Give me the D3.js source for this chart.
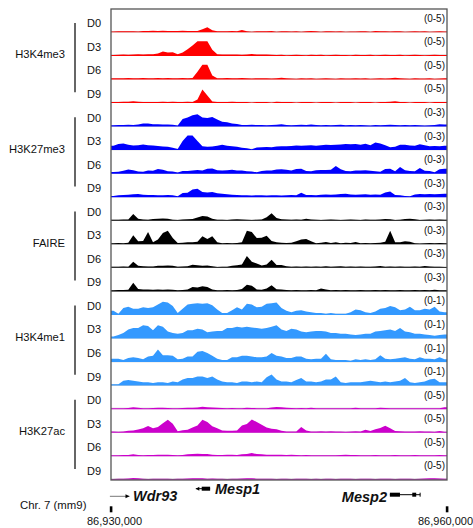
<!DOCTYPE html>
<html><head><meta charset="utf-8">
<script src="https://cdn.jsdelivr.net/npm/d3@7"></script>
<style>body{margin:0;background:#fff}svg{display:block;font-family:"Liberation Sans",Arial,sans-serif}</style>
</head><body><svg id="c" width="473" height="528"></svg>
<script>
const marks = ["H3K4me3","H3K27me3","FAIRE","H3K4me1","H3K27ac"];
const days = ["D0","D3","D6","D9"];
const markColors = ["#ff0000","#0000ff","#000000","#3399ff","#cc00cc"];
const markRanges = [5,3,3,1,5];

const H3K4me3_D0 = [0.1,0.15,0.2,0.15,0.2,0.1,0.25,0.3,0.35,0.3, 0.35,0.3,0.25,0.3,0.35,0.3,0.25,0.3,0.9,1.6, 0.5,0.2,0.15,0.2,0.25,0.2,0.6,0.15,0,0.2, 0.15,0.2,0.25,0,0.2,0.15,0.1,0.2,0,0.2, 0.25,0.15,0,0.2,0.15,0.1,0.2,0,0.1,0.1, 0.15,0.2,0,0.25,0.2,0.15,0.1,0.15,0.2,0, 0.1,0.15,0.1,0.2,0,0.1,0.15,0.1];
const H3K4me3_D3 = [0.15,0.2,0.25,0.2,0.3,0.35,0.3,0.35,0.4,0.6, 1.4,1.0,1.1,0.4,1.0,2.2,3.5,5,5,5, 2.0,0.4,0.3,0.3,0.25,0.3,0.2,0.3,0.45,0.3, 0.25,0.3,0.2,0.15,0.2,0,0.15,0.2,0.15,0, 0.2,0.15,0.2,0,0.15,0.2,0.1,0.15,0,0.2, 0.15,0.1,0.2,0,0.15,0.2,0.1,0.15,0.2,0, 0.15,0.2,0.1,0,0.15,0.2,0.1,0.15];
const H3K4me3_D6 = [0.2,0.25,0.2,0.3,0.25,0.2,0.3,0.25,0.2,0.3, 0.25,0.3,0.2,0.25,0.3,0.2,0.3,2.5,5,5, 1.2,0.2,0.25,0.3,0.2,0.25,0.3,0.2,0.15,0.25, 0.2,0.25,0.15,0.2,0.4,0.2,0.15,0,0.2,0.15, 0.2,0,0.15,0.2,0.15,0,0.2,0.15,0.1,0.2, 0.15,0.2,0,0.15,0.2,0.15,0.2,0.4,0.2,0.15, 0,0.2,0.15,0.1,0.2,0,0.15,0.2];
const H3K4me3_D9 = [0.1,0.15,0.2,0.25,0.4,0.2,0.1,0.15,0.1,0.15, 0.2,0.15,0.2,0.15,0.1,0.2,0.15,1.0,4.6,2.5, 0.3,0.15,0.1,0.15,0.2,0.1,0.15,0.1,0,0.15, 0.1,0.15,0,0.2,0.15,0.1,0.15,0,0.1,0.15, 0.1,0,0.15,0.1,0.15,0,0.1,0.15,0.1,0, 0.15,0.1,0.15,0,0.1,0.15,0.2,0.4,0.15,0.1, 0,0.15,0.1,0.15,0,0.1,0.15,0.1];

const H3K27me3_D0 = [0.15,0.2,0.2,0.25,0.2,0.3,0.55,0.5,0.35,0.35, 0.3,0.3,0.25,0.1,1.5,1.8,2.3,2.5,1.8,1.7, 1.9,1.4,0.9,0.8,0.5,0.4,0.2,0.2,0.25,0.2, 0.2,0.15,0.2,0.25,0.35,0.2,0.15,0.2,0.25,0.2, 0.3,0.2,0.15,0.2,0.15,0.2,0.25,0.15,0.2,0.15, 0.2,0.15,0.1,0.2,0.15,0.2,0.25,0.2,0.15,0.2, 0.15,0.2,0.15,0.1,0.15,0.2,0.35,0.3];
const H3K27me3_D3 = [0.8,1.2,1.3,1.0,0.85,0.9,1.05,0.9,0.85,0.75, 0.65,0.6,0.35,0.1,1.8,3,3,1.8,0.7,0.6, 0.65,0.8,1.0,0.8,0.7,0.6,0.4,0.25,0.05,0.45, 0.5,0.55,0.5,0.65,0.7,0.7,0.75,0.85,0.8,0.85, 0.9,0.8,0.9,1.0,0.95,1.0,1.05,1.2,1.1,1.2, 1.0,1.25,0.9,1.5,1.3,0.9,0.5,0.6,1.0,1.0, 0.85,0.8,1.1,0.9,0.7,0.75,0.7,0.8];
const H3K27me3_D6 = [0.2,0.3,0.5,0.75,0.6,0.35,0.3,0.55,0.5,0.85, 0.7,0.4,0.35,0.1,0.45,0.45,0.55,0.65,0.55,0.9, 1.0,0.6,0.55,0.6,0.7,0.55,0.55,0.4,0.35,0.15, 0.45,0.55,0.55,0.75,0.8,0.7,0.55,0.85,0.9,0.45, 0.4,0.6,0.65,0.65,0.7,1.5,0.8,0.45,0.4,0.55, 0.55,0.6,0.5,0.4,0.3,0.85,0.9,0.4,1.3,0.6, 0.45,0.4,1.1,0.5,0.45,0.15,0.8,0.9];
const H3K27me3_D9 = [0.15,0.3,0.35,0.4,0.5,0.55,0.4,0.35,0.35,0.3, 0.3,0.35,0.3,0.1,0.75,0.85,1.5,1.7,1.0,0.9, 1.0,0.7,0.6,0.5,0.4,0.35,0.3,0.3,0.25,0.3, 0.3,0.25,0.3,0.3,0.25,0.3,0.35,0.3,0.8,0.35, 0.35,0.3,0.4,0.45,0.4,0.45,0.55,0.6,0.45,0.4, 0.45,0.5,0.4,0.45,0.4,0.9,1.1,0.35,0.3,0.15, 0.1,0.45,0.55,0.5,0.55,0.5,0.55,0.6];

const FAIRE_D0 = [0.1,0.1,0.15,0.15,1.3,0.3,0.15,0.1,0.25,0.3, 0.35,0.3,0.1,0.05,0.15,0.2,0.25,0.55,0.9,0.8, 0.3,0.1,0.1,0.05,0.15,0.2,0.15,0.1,0.05,0.1, 0.15,0.6,1.5,0.45,0.2,0.15,0.1,0.15,0.1,0.3, 0.15,0.1,0.05,0.1,0.15,0.1,0.05,0.1,0.15,0.1, 0.05,0.15,0.1,0.1,0.15,0.25,0.2,0.05,0.1,0.25, 0.3,0.2,0.05,0.1,0.15,0.1,0.15,0.1];
const FAIRE_D3 = [0.1,0.15,0.1,0.2,1.8,0.5,0.6,2.5,0.3,0.9, 2.3,2.8,1.2,0.15,0.2,0.3,0.3,0.4,1.6,1.0, 1.6,0.3,0.1,0.15,0.1,0.15,0.3,2.8,2.5,1.2, 1.3,1.7,0.6,0.3,0.2,0.15,0.2,0.5,0.9,1.0, 0.5,0.1,0.2,0.35,0.15,0.3,0.1,0.2,0.15,0.35, 0.1,0.15,0.1,0.15,0.2,0.4,2.8,0.3,0.3,0.5, 0.4,0.1,0.05,0.1,0.15,0.1,0.15,0.1];
const FAIRE_D6 = [0.1,0.1,0.15,0.1,1.2,0.3,0.2,0.15,0.15,0.3, 0.3,0.4,0.3,0.1,0.15,0.2,0.55,0.45,0.3,0.35, 0.2,0.05,0.1,0.1,0.3,0.45,0.6,2.4,1.2,0.8, 0.35,0.6,1.6,0.5,0.5,0.2,0.1,0.15,0.1,0.15, 0.1,0.15,0.1,0.2,0.1,0.15,0.2,0.1,0.15,0.1, 0.15,0.1,0.1,0.15,0.25,0.1,0.15,0.1,0.15,0.1, 0.1,0.15,0.1,0.25,0.15,0.1,0.1,0.05];
const FAIRE_D9 = [0.1,0.15,0.15,0.2,1.7,0.4,0.3,0.3,0.2,0.3, 0.25,0.3,0.2,0.1,0.15,0.3,0.8,0.7,1.0,0.8, 0.3,0.1,0.1,0.15,0.1,0.15,0.4,1.3,1.1,0.3, 0.2,0.5,1.2,0.35,0.3,0.15,0.1,0.15,0.1,0.1, 0.15,0.1,0.5,0.3,0.1,0.15,0.1,0.15,0.1,0.1, 0.15,0.1,0.1,0.15,0.1,0.15,0.1,0.1,0.15,0.1, 0.1,0.15,0.1,0.15,0.1,0.2,0.1,0.1];

const H3K4me1_D0 = [0.25,0.05,0.45,0.55,0.4,0.4,0.5,0.45,0.5,0.7, 0.9,0.85,0.6,0.1,0.4,0.7,0.75,0.8,0.75,0.8, 0.65,0.35,0.1,0.1,0.3,0.5,0.35,0.75,0.7,0.5, 0.55,0.75,0.8,0.85,0.45,0.25,0.15,0.25,0.3,0.2, 0.15,0.1,0.1,0.05,0.1,0.05,0.05,0.05,0.15,0.35, 0.3,0.15,0.1,0.2,0.4,0.45,0.6,0.5,0.3,0.35, 0.55,0.3,0.3,0.4,0.35,0.55,0.2,0.15];
const H3K4me1_D3 = [0.1,0.2,0.35,0.6,0.7,0.7,0.9,0.85,0.55,0.9, 0.8,0.45,0.35,0.3,0.35,0.55,0.55,0.65,0.6,0.4, 0.45,0.5,0.5,0.7,0.7,0.8,0.75,0.8,0.75,0.7, 0.65,0.7,0.8,0.9,0.6,0.5,0.65,0.6,0.45,0.4, 0.45,0.5,0.5,0.45,0.35,0.35,0.3,0.3,0.25,0.2, 0.25,0.3,0.3,0.45,0.5,0.55,0.6,0.5,0.7,0.45, 0.4,0.3,0.3,0.25,0.2,0.15,0.2,0.25];
const H3K4me1_D6 = [0.2,0.2,0.1,0.25,0.3,0.25,0.15,0.35,0.4,0.85, 0.45,0.45,0.4,0.15,0.2,0.35,0.35,0.7,0.75,0.6, 0.4,0.2,0.1,0.1,0.3,0.3,0.4,0.4,0.35,0.3, 0.3,0.35,0.6,0.4,0.35,0.25,0.25,0.35,0.35,0.2, 0.15,0.2,0.2,0.55,0.15,0.1,0.1,0.1,0.05,0.15, 0.1,0.15,0.1,0.15,0.45,0.2,0.15,0.2,0.25,0.3, 0.2,0.15,0.3,0.2,0.2,0.15,0.3,0.15];
const H3K4me1_D9 = [0.05,0.05,0.3,0.35,0.3,0.25,0.2,0.2,0.15,0.2, 0.2,0.15,0.25,0.2,0.4,0.5,0.5,0.6,0.6,0.5, 0.6,0.4,0.25,0.2,0.2,0.15,0.25,0.25,0.2,0.25, 0.2,0.55,0.75,0.4,0.25,0.25,0.2,0.35,0.5,0.25, 0.25,0.2,0.25,0.4,0.4,0.6,0.2,0.15,0.2,0.2, 0.2,0.25,0.3,0.25,0.2,0.25,0.2,0.25,0.3,0.5, 0.2,0.15,0.2,0.25,0.4,0.45,0.2,0.2];

const H3K27ac_D0 = [0.1,0.15,0.1,0.2,0.5,0.25,0.15,0.1,0.2,0.3, 0.25,0.2,0.15,0.15,0.2,0.25,0.3,0.4,0.65,0.5, 0.35,0.25,0.2,0.15,0.2,0.15,0.1,0.25,0.2,0.15, 0.1,0.15,0.4,0.55,0.5,0.3,0.2,0.15,0.2,0.15, 0.25,0.15,0.1,0.15,0.1,0.15,0.1,0.15,0.1,0.3, 0.15,0.1,0.15,0.1,0.25,0.2,0.15,0.1,0.15,0.1, 0.15,0.1,0.15,0.1,0.15,0.1,0.15,0.45];
const H3K27ac_D3 = [0.2,0.15,0.25,0.45,0.6,0.9,1.4,2.2,1.4,1.8, 3.2,4.4,3.0,0.3,0.7,0.8,1.6,2.4,4.4,3.6, 2.1,1.4,0.6,0.5,0.45,0.6,2.4,2.9,4.5,3.6, 2.6,1.6,1.2,1.0,0.5,0.2,0.2,0.25,1.8,0.6, 0.25,0.2,0.3,0.2,0.3,0.2,0.25,0.15,0.2,0.3, 0.2,0.8,0.4,1.0,1.5,2.3,1.4,0.4,0.3,0.2, 0.25,0.2,0.3,0.25,0.2,0.15,0.35,0.1];
const H3K27ac_D6 = [0.1,0.15,0.2,0.2,0.5,0.2,0.15,0.2,0.25,0.3, 0.35,0.3,0.25,0.15,0.2,0.5,0.6,0.65,0.6,0.55, 0.35,0.25,0.2,0.35,0.3,0.25,0.5,0.6,0.95,0.55, 0.5,0.35,0.3,0.35,0.3,0.25,0.3,0.2,0.15,0.2, 0.15,0.1,0.15,0.1,0.15,0.1,0.2,0.3,0.25,0.2, 0.15,0.1,0.15,0.2,0.15,0.1,0.15,0.2,0.15,0.1, 0.15,0.2,0.15,0.1,0.15,0.1,0.2,0.15];
const H3K27ac_D9 = [0.1,0.15,0.2,0.25,0.45,0.3,0.15,0.1,0.2,0.15, 0.2,0.15,0.1,0.15,0.2,0.25,0.3,0.35,0.3,0.2, 0.25,0.2,0.15,0.1,0.2,0.15,0.25,0.3,0.35,0.2, 0.15,0.2,0.15,0.1,0.2,0.15,0.1,0.15,0.2,0.15, 0.1,0.15,0.1,0.2,0.15,0.1,0.15,0.2,0.15,0.1, 0.15,0.2,0.15,0.1,0.15,0.2,0.15,0.1,0.15,0.2, 0.15,0.1,0.2,0.25,0.3,0.35,0.25,0.15];

const trackData = [
  [H3K4me3_D0,H3K4me3_D3,H3K4me3_D6,H3K4me3_D9],
  [H3K27me3_D0,H3K27me3_D3,H3K27me3_D6,H3K27me3_D9],
  [FAIRE_D0,FAIRE_D3,FAIRE_D6,FAIRE_D9],
  [H3K4me1_D0,H3K4me1_D3,H3K4me1_D6,H3K4me1_D9],
  [H3K27ac_D0,H3K27ac_D3,H3K27ac_D6,H3K27ac_D9]
];

const regionStart = 86930000, regionEnd = 86960000;
const axisTicks = [86930000, 86960000];
const chromLabel = "Chr. 7 (mm9)";
const geneNames = ["Wdr93","Mesp1","Mesp2"];
const geneStrand = ["+","-","-"];
const geneSpan = [[86929900,86931650],[86937570,86938850],[86954900,86957600]];
const geneExons = [[],[[86938100,86938850]],[[86954900,86955800],[86956900,86957250]]];

const svg = d3.select("#c");
const X0 = 111, X1 = 447, TOP = 9, ROWH = 23.55, PLOTH = 14;
const gx = d3.scaleLinear().domain([regionStart, regionEnd]).range([X0, X1]);

const baseline = r => TOP + (r + 1) * ROWH - 0.8;

trackData.forEach((group, g) => {
  group.forEach((vals, d) => {
    const r = g * 4 + d;
    const b = baseline(r);
    const n = vals.length;
    const xs = d3.scaleLinear().domain([0, n]).range([X0, X1]);
    const ys = d3.scaleLinear().domain([0, markRanges[g]]).range([b, b - PLOTH]).clamp(true);
    svg.append("line").attr("x1", X0).attr("x2", X1).attr("y1", b).attr("y2", b)
      .attr("stroke", "#c8c8c8").attr("stroke-width", 1.4);
    const pts = [[0, vals[0]]].concat(vals.map((v, i) => [i + 0.5, v]), [[n, vals[n - 1]]]);
    const area = d3.area().x(p => xs(p[0])).y0(b + 0.6).y1(p => ys(p[1])).curve(d3.curveLinear);
    svg.append("path").attr("d", area(pts)).attr("fill", markColors[g]);
    const top = TOP + r * ROWH;
    svg.append("text").attr("x", 445).attr("y", top + 12.8).attr("text-anchor", "end")
      .attr("font-size", 10).attr("fill", "#111").text(`(0-${markRanges[g]})`);
    svg.append("text").attr("x", 87).attr("y", top + 18.3)
      .attr("font-size", 11).attr("fill", "#111").text(days[d]);
  });
  const gTop = TOP + g * 4 * ROWH;
  svg.append("text").attr("x", 65).attr("y", gTop + 2 * ROWH + 2.3).attr("text-anchor", "end")
    .attr("font-size", 11.2).attr("fill", "#111").text(marks[g]);
  svg.append("line").attr("x1", 75).attr("x2", 75).attr("y1", gTop + 14).attr("y2", gTop + 4 * ROWH - 11)
    .attr("stroke", "#333").attr("stroke-width", 1.5);
});

// frame
svg.append("rect").attr("x", X0).attr("y", TOP).attr("width", X1 - X0).attr("height", 20 * ROWH)
  .attr("fill", "none").attr("stroke", "#555").attr("stroke-width", 1.3);

// genes
const geneY = [496.3, 488.7, 494.7];
geneNames.forEach((name, i) => {
  const y = geneY[i];
  const [s, e] = geneSpan[i];
  const xa = gx(s), xb = gx(e);
  svg.append("line").attr("x1", xa).attr("x2", xb).attr("y1", y).attr("y2", y)
    .attr("stroke", i === 0 ? "#777" : "#000").attr("stroke-width", 1);
  geneExons[i].forEach(ex => {
    svg.append("rect").attr("x", gx(ex[0])).attr("y", y - 2).attr("width", gx(ex[1]) - gx(ex[0]))
      .attr("height", 4).attr("fill", "#000");
  });
  if (geneStrand[i] === "+") {
    svg.append("path").attr("d", `M${xb},${y} l-4,-2 l0,4 z`).attr("fill", "#000");
  } else if (i === 1) {
    svg.append("path").attr("d", `M${xa},${y} l3.5,-2 l0,4 z`).attr("fill", "#000");
  } else {
    svg.append("line").attr("x1", xb).attr("x2", xb).attr("y1", y - 2).attr("y2", y + 2)
      .attr("stroke", "#000").attr("stroke-width", 1);
  }
});
const geneLabelX = [133, 215, 387];
const geneLabelY = [501.3, 494, 502];
const geneAnchor = ["start","start","end"];
geneNames.forEach((name, i) => {
  svg.append("text").attr("x", geneLabelX[i]).attr("y", geneLabelY[i]).attr("text-anchor", geneAnchor[i])
    .attr("font-size", 14.5).attr("font-weight", "bold").attr("font-style", "italic").attr("fill", "#111").text(name);
});

svg.append("text").attr("x", 20).attr("y", 508.5).attr("font-size", 11.4).attr("fill", "#111").text(chromLabel);
const tickOffset = [3.5, -1.5];
axisTicks.forEach((t, i) => {
  svg.append("rect").attr("x", gx(t) - 1.2).attr("y", 506.3).attr("width", 2.6).attr("height", 6).attr("fill", "#000");
  svg.append("text").attr("x", gx(t) + tickOffset[i]).attr("y", 525).attr("text-anchor", "middle")
    .attr("font-size", 11).attr("fill", "#111").text(d3.format(",")(t));
});
</script></body></html>
